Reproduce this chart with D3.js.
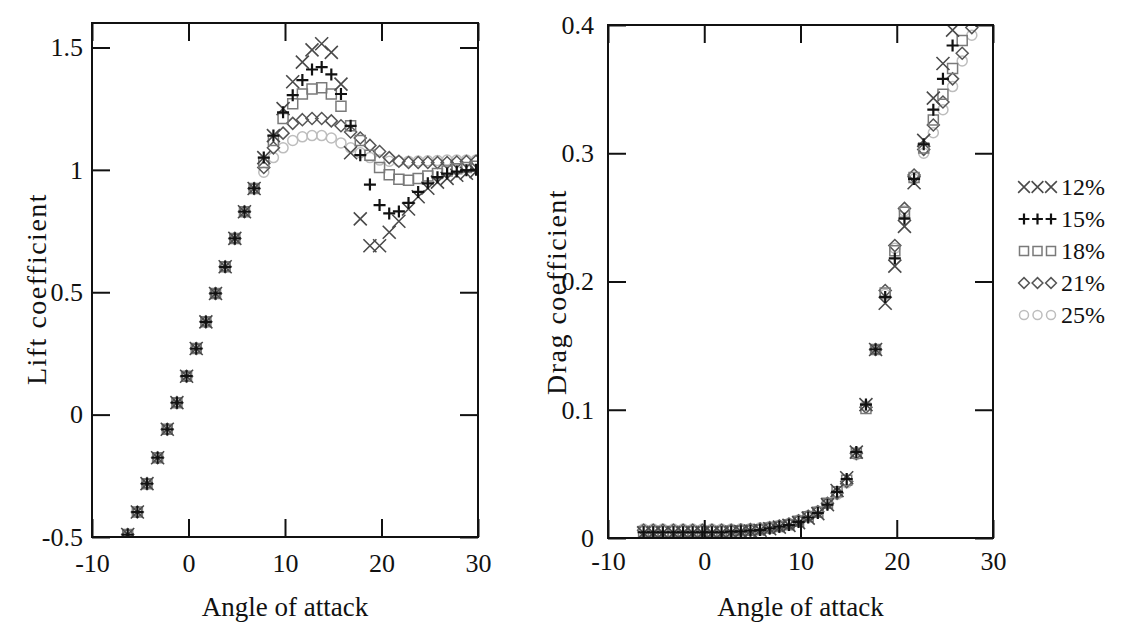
<!DOCTYPE html>
<html>
<head>
<meta charset="utf-8">
<script src="https://cdn.jsdelivr.net/npm/d3@7"></script>
<style>
  body { margin: 0; background: #fff; }
  svg text { font-family: "Liberation Serif", "DejaVu Serif", serif; fill: #111; }
  .tick text { font-size: 26px; }
</style>
</head>
<body>
<div id="chart"></div>
<script>
// angle of attack (deg), same grid for both panels
const alpha = [-6.3, -5.3, -4.3, -3.2, -2.2, -1.2, -0.2, 0.8, 1.8, 2.8, 3.8, 4.8, 5.8, 6.8, 7.8, 8.8, 9.8, 10.8, 11.8, 12.8,
  13.8, 14.8, 15.8, 16.8, 17.8, 18.8, 19.8, 20.8, 21.8, 22.8, 23.8, 24.8, 25.8, 26.8, 27.8, 28.8, 29.8];

const lift12 = [-0.49, -0.398, -0.282, -0.176, -0.06, 0.049, 0.157, 0.27, 0.379, 0.495, 0.604, 0.72, 0.829, 0.924,
  1.05, 1.14, 1.25, 1.36, 1.44, 1.49, 1.515, 1.48, 1.35, 1.07, 0.80, 0.69, 0.69, 0.745, 0.79, 0.84, 0.89, 0.925, 0.95, 0.965, 0.978, 0.986, 0.993];
const lift15 = [-0.49, -0.398, -0.282, -0.176, -0.06, 0.049, 0.157, 0.27, 0.379, 0.495, 0.604, 0.72, 0.829, 0.924,
  1.05, 1.14, 1.235, 1.305, 1.367, 1.41, 1.42, 1.39, 1.31, 1.18, 1.06, 0.94, 0.856, 0.822, 0.83, 0.865, 0.91, 0.945, 0.97, 0.985, 0.993, 0.998, 1.0];
const lift18 = [-0.49, -0.398, -0.282, -0.176, -0.06, 0.049, 0.157, 0.27, 0.379, 0.495, 0.604, 0.72, 0.829, 0.924,
  1.03, 1.12, 1.21, 1.27, 1.31, 1.33, 1.335, 1.31, 1.26, 1.18, 1.12, 1.06, 1.01, 0.98, 0.962, 0.958, 0.965, 0.975, 0.985, 0.995, 1.005, 1.01, 1.015];
const lift21 = [-0.49, -0.398, -0.282, -0.176, -0.06, 0.049, 0.157, 0.27, 0.379, 0.495, 0.604, 0.72, 0.829, 0.924,
  1.01, 1.09, 1.15, 1.19, 1.205, 1.21, 1.21, 1.20, 1.18, 1.155, 1.13, 1.10, 1.075, 1.05, 1.035, 1.03, 1.03, 1.03, 1.03, 1.03, 1.032, 1.034, 1.035];
const lift25 = [-0.49, -0.398, -0.282, -0.176, -0.06, 0.049, 0.157, 0.27, 0.379, 0.495, 0.604, 0.72, 0.829, 0.924,
  0.99, 1.05, 1.09, 1.12, 1.135, 1.14, 1.14, 1.13, 1.11, 1.09, 1.07, 1.05, 1.04, 1.035, 1.035, 1.035, 1.036, 1.037, 1.038, 1.04, 1.04, 1.04, 1.04];

const drag12 = [0.004, 0.004, 0.004, 0.004, 0.004, 0.004, 0.004, 0.004, 0.004, 0.0045, 0.005, 0.0055, 0.006, 0.0072, 0.0085, 0.0098,
  0.012, 0.0155, 0.019, 0.026, 0.037, 0.047, 0.067, 0.104, 0.147, 0.183, 0.212, 0.243, 0.277, 0.31, 0.343, 0.37, 0.396, 0.42, 0.445, 0.47, 0.495];
const drag15 = [0.0045, 0.0045, 0.0045, 0.0045, 0.0045, 0.0045, 0.0045, 0.0045, 0.0045, 0.005, 0.0052, 0.0057, 0.0062, 0.0075, 0.0088, 0.0101,
  0.0125, 0.016, 0.0195, 0.026, 0.036, 0.046, 0.067, 0.104, 0.147, 0.188, 0.218, 0.249, 0.28, 0.307, 0.334, 0.358, 0.384, 0.407, 0.43, 0.455, 0.48];
const drag18 = [0.005, 0.005, 0.005, 0.005, 0.005, 0.005, 0.005, 0.005, 0.005, 0.0055, 0.0057, 0.006, 0.0065, 0.0078, 0.009, 0.0104,
  0.013, 0.0165, 0.02, 0.027, 0.036, 0.045, 0.066, 0.101, 0.147, 0.191, 0.224, 0.254, 0.281, 0.304, 0.326, 0.346, 0.366, 0.388, 0.41, 0.432, 0.455];
const drag21 = [0.006, 0.006, 0.006, 0.006, 0.006, 0.006, 0.006, 0.006, 0.006, 0.006, 0.0062, 0.0065, 0.007, 0.008, 0.0093, 0.0108,
  0.0135, 0.017, 0.0205, 0.027, 0.035, 0.044, 0.066, 0.102, 0.147, 0.193, 0.228, 0.257, 0.283, 0.303, 0.322, 0.34, 0.358, 0.378, 0.398, 0.42, 0.44];
const drag25 = [0.007, 0.007, 0.007, 0.007, 0.007, 0.007, 0.007, 0.007, 0.007, 0.007, 0.0072, 0.0075, 0.008, 0.009, 0.01, 0.0115,
  0.014, 0.0175, 0.021, 0.027, 0.034, 0.043, 0.065, 0.103, 0.147, 0.19, 0.226, 0.255, 0.28, 0.3, 0.316, 0.334, 0.352, 0.372, 0.392, 0.413, 0.435];

const seriesNames = ["12%", "15%", "18%", "21%", "25%"];
const xTicks = [-10, 0, 10, 20, 30];
const liftTicks = [-0.5, 0, 0.5, 1, 1.5];
const dragTicks = [0, 0.1, 0.2, 0.3, 0.4];

const styles = {
  "12%": { shape: "x", color: "#4a4a4a", size: 6.5, width: 1.6 },
  "15%": { shape: "plus", color: "#111", size: 6, width: 2.2 },
  "18%": { shape: "square", color: "#7a7a7a", size: 5, width: 1.5 },
  "21%": { shape: "diamond", color: "#555", size: 6, width: 1.5 },
  "25%": { shape: "circle", color: "#bdbdbd", size: 5, width: 1.5 },
};
// draw order: lightest first, the black crosses last
const drawOrder = ["25%", "21%", "18%", "12%", "15%"];

function markerPath(shape, s) {
  switch (shape) {
    case "x": return `M${-s},${-s}L${s},${s}M${-s},${s}L${s},${-s}`;
    case "plus": return `M${-s},0H${s}M0,${-s}V${s}`;
    case "square": return `M${-s},${-s}H${s}V${s}H${-s}Z`;
    case "diamond": return `M0,${-s}L${s},0L0,${s}L${-s},0Z`;
    default: return `M${s},0A${s},${s} 0 1 1 ${-s},0A${s},${s} 0 1 1 ${s},0Z`;
  }
}

class ScatterPanel {
  #scaleX;
  #scaleY;

  constructor(svg, id, box, xDomain, yDomain) {
    this.svg = svg;
    this.id = id;
    this.box = box;
    this.#scaleX = d3.scaleLinear().domain(xDomain).range([box.left, box.right]);
    this.#scaleY = d3.scaleLinear().domain(yDomain).range([box.bottom, box.top]);

    svg.append("clipPath")
      .attr("id", id)
      .append("rect")
      .attr("x", box.left)
      .attr("y", box.top)
      .attr("width", box.right - box.left)
      .attr("height", box.bottom - box.top);

    this.g = svg.append("g");
  }

  render(series, yTicks, yTitle, opts) {
    const box = this.box;
    const tick = 18;

    const pts = this.g.append("g").attr("clip-path", `url(#${this.id})`);
    drawOrder.forEach((name) => {
      const st = styles[name];
      pts.append("g")
        .selectAll("path")
        .data(alpha.map((a, i) => ({ a, v: series[name][i] })))
        .join("path")
        .attr("transform", (d) => `translate(${this.#scaleX(d.a)},${this.#scaleY(d.v)})`)
        .attr("d", markerPath(st.shape, st.size))
        .attr("fill", "none")
        .attr("stroke", st.color)
        .attr("stroke-width", st.width);
    });

    const fmt = (d) => String(d);
    const axes = [
      d3.axisBottom(this.#scaleX).tickValues(xTicks).tickFormat(fmt).tickPadding(opts.xPad),
      d3.axisTop(this.#scaleX).tickValues(xTicks).tickFormat(""),
      d3.axisLeft(this.#scaleY).tickValues(yTicks).tickFormat(fmt).tickPadding(opts.yPad),
      d3.axisRight(this.#scaleY).tickValues(yTicks).tickFormat(""),
    ];
    const shifts = [
      `translate(0,${box.bottom})`,
      `translate(0,${box.top})`,
      `translate(${box.left},0)`,
      `translate(${box.right},0)`,
    ];
    axes.forEach((ax, i) => {
      const g = this.g.append("g")
        .attr("transform", shifts[i])
        .call(ax.tickSizeInner(-tick).tickSizeOuter(0))
        .attr("font-size", null)
        .attr("font-family", null);
      g.select(".domain").remove();
      g.selectAll(".tick line").attr("stroke", "#111").attr("stroke-width", 2);
    });

    this.g.append("rect")
      .attr("x", box.left)
      .attr("y", box.top)
      .attr("width", box.right - box.left)
      .attr("height", box.bottom - box.top)
      .attr("fill", "none")
      .attr("stroke", "#111")
      .attr("stroke-width", 2);

    this.g.append("text")
      .attr("x", (box.left + box.right) / 2)
      .attr("y", 616)
      .attr("text-anchor", "middle")
      .attr("font-size", 27)
      .text("Angle of attack");

    this.g.append("text")
      .attr("transform", `translate(${opts.yTitleX},${opts.yTitleY}) rotate(-90)`)
      .attr("text-anchor", "middle")
      .attr("font-size", 28)
      .attr("letter-spacing", 1.5)
      .text(yTitle);
  }
}

const width = 1142;
const height = 623;

const svg = d3.select("#chart")
  .append("svg")
  .attr("width", width)
  .attr("height", height);

const liftPanel = new ScatterPanel(svg, "clipLift", { left: 92, right: 478, top: 23, bottom: 537 }, [-10, 30], [-0.5, 1.6]);
liftPanel.render(
  { "12%": lift12, "15%": lift15, "18%": lift18, "21%": lift21, "25%": lift25 },
  liftTicks, "Lift coefficient",
  { xPad: 17, yPad: 9, yTitleX: 46, yTitleY: 289 }
);

const dragPanel = new ScatterPanel(svg, "clipDrag", { left: 608, right: 993, top: 25, bottom: 538 }, [-10, 30], [0, 0.4]);
dragPanel.render(
  { "12%": drag12, "15%": drag15, "18%": drag18, "21%": drag21, "25%": drag25 },
  dragTicks, "Drag coefficient",
  { xPad: 14, yPad: 14, yTitleX: 566, yTitleY: 292 }
);

// legend
const legend = svg.append("g").attr("transform", "translate(1024,187)");
seriesNames.forEach((name, i) => {
  const st = styles[name];
  const row = legend.append("g").attr("transform", `translate(0,${i * 32})`);
  row.selectAll("path")
    .data([0, 1, 2])
    .join("path")
    .attr("transform", (k) => `translate(${k * 13.5},0)`)
    .attr("d", markerPath(st.shape, st.size * 0.9))
    .attr("fill", "none")
    .attr("stroke", st.color)
    .attr("stroke-width", st.width);
  row.append("text")
    .attr("x", 37)
    .attr("dy", "0.35em")
    .attr("font-size", 24)
    .text(name);
});
</script>
</body>
</html>
